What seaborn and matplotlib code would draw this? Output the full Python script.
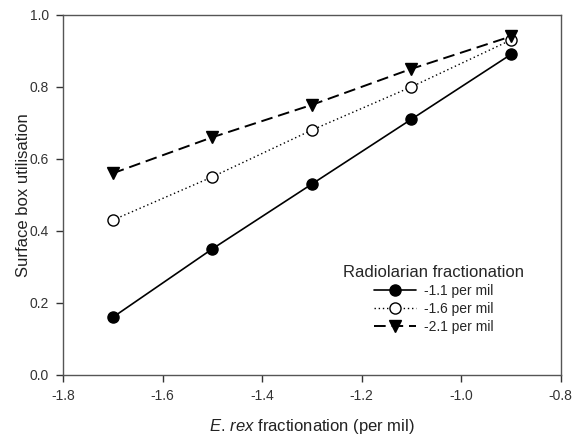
import matplotlib
matplotlib.use("Agg")
import matplotlib.pyplot as plt
import seaborn as sns
import pandas as pd

x_vals = [-1.7, -1.5, -1.3, -1.1, -0.9]
s_11 = [0.16, 0.35, 0.53, 0.71, 0.89]
s_16 = [0.43, 0.55, 0.68, 0.80, 0.93]
s_21 = [0.56, 0.66, 0.75, 0.85, 0.94]
labels = ["-1.1 per mil", "-1.6 per mil", "-2.1 per mil"]

sns.set_theme(style="ticks")
plt.rcParams['font.family'] = ['Liberation Sans', 'DejaVu Sans']
plt.rcParams['mathtext.fontset'] = 'custom'
plt.rcParams['mathtext.it'] = 'Liberation Sans:italic'
plt.rcParams['mathtext.rm'] = 'Liberation Sans'

fig = plt.figure(figsize=(5.8, 4.37), dpi=100)
ax = fig.add_axes([0.1086, 0.142, 0.858, 0.824])

series = [s_11, s_16, s_21]
styles = [
    dict(linestyle='-', marker='o', mfc='black', ms=8, lw=1.2),
    dict(linestyle=(0, (1, 2)), marker='o', mfc='white', ms=8, lw=1.0),
    dict(linestyle=(0, (6, 3)), marker='v', mfc='black', ms=8, lw=1.4),
]
for vals, lab, st in zip(series, labels, styles):
    df = pd.DataFrame({"x": x_vals, "y": vals})
    sns.lineplot(data=df, x="x", y="y", ax=ax, color='black', label=lab,
                 linestyle=st['linestyle'], marker=st['marker'],
                 markerfacecolor=st['mfc'], markeredgecolor='black',
                 markeredgewidth=1.0, markersize=st['ms'], linewidth=st['lw'])

ax.set_xlim(-1.8, -0.8)
ax.set_ylim(0.0, 1.0)
ax.set_xticks([-1.8, -1.6, -1.4, -1.2, -1.0, -0.8])
ax.set_xticklabels(["-1.8", "-1.6", "-1.4", "-1.2", "-1.0", "-0.8"])
ax.set_yticks([0.0, 0.2, 0.4, 0.6, 0.8, 1.0])
ax.set_yticklabels(["0.0", "0.2", "0.4", "0.6", "0.8", "1.0"])
ax.tick_params(axis='both', labelsize=10, colors='#333333', length=5, width=1, direction='out', pad=5)
for s in ax.spines.values():
    s.set_color('#555555')
    s.set_linewidth(1.0)
ax.set_xlabel(r"$\mathit{E.\,rex}$ fractionation (per mil)", fontsize=12, color='#222222', labelpad=10)
ax.set_ylabel("Surface box utilisation", fontsize=12, color='#222222', labelpad=-1)

leg = ax.legend(title="Radiolarian fractionation", frameon=False, loc='center',
                bbox_to_anchor=(0.745, 0.21), fontsize=10, title_fontsize=12,
                handlelength=3.0, labelspacing=0.3, handletextpad=0.6)
fig.savefig("out.png", dpi=100)
